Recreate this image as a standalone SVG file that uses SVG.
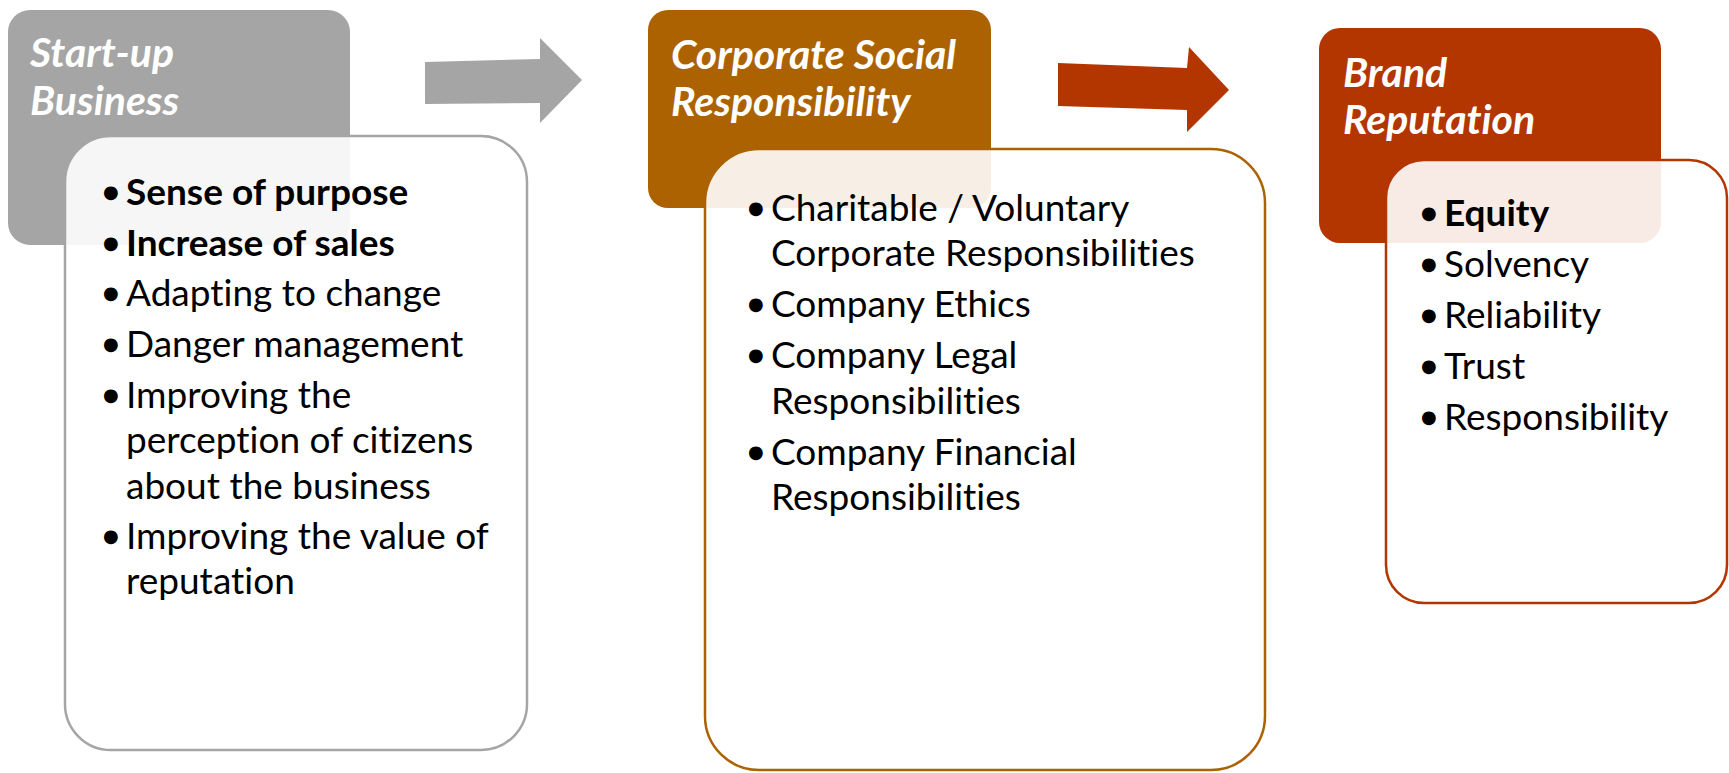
<svg xmlns="http://www.w3.org/2000/svg" width="1729" height="773" viewBox="0 0 1729 773">
<style>
text{font-variant-ligatures:none}
.hdr{font-family:Lato,"Liberation Sans",sans-serif;font-weight:bold;font-style:italic;font-size:41px;fill:#fff}
.txt{font-family:Lato,"Liberation Sans",sans-serif;font-size:37px;fill:#000}
.b{font-weight:bold}
.bul{font-family:"DejaVu Sans",sans-serif;font-size:18px;font-weight:normal}
.body{fill:#fff;fill-opacity:0.9;stroke-width:2.5}
</style>
<rect width="1729" height="773" fill="#fff"/>
<g id="connectors">
<polygon points="425,62 540,59 540,38 582,80 540,123 540,103 425,104" fill="#A5A5A5"/>
<polygon points="1058,63 1187,68 1189,47 1229,90 1187,132 1187,110 1058,106" fill="#B33500"/>
</g>
<g id="node-startup">
<rect x="8" y="10" width="342" height="235" rx="22" fill="#A5A5A5"/>
<text class="hdr" x="30" y="67">Start-up</text>
<text class="hdr" x="30" y="115">Business</text>
<rect class="body" x="65" y="136" width="462" height="614" rx="46" stroke="#A5A5A5"/>
<text class="txt b" x="103" y="205"><tspan class="bul" dy="-7">●</tspan><tspan x="126" dy="7">Sense of purpose</tspan></text>
<text class="txt b" x="103" y="256"><tspan class="bul" dy="-7">●</tspan><tspan x="126" dy="7">Increase of sales</tspan></text>
<text class="txt" x="103" y="306"><tspan class="bul" dy="-7">●</tspan><tspan x="126" dy="7">Adapting to change</tspan></text>
<text class="txt" x="103" y="357"><tspan class="bul" dy="-7">●</tspan><tspan x="126" dy="7">Danger management</tspan></text>
<text class="txt" x="103" y="408"><tspan class="bul" dy="-7">●</tspan><tspan x="126" dy="7">Improving the</tspan></text>
<text class="txt" x="126" y="453">perception of citizens</text>
<text class="txt" x="126" y="499">about the business</text>
<text class="txt" x="103" y="549"><tspan class="bul" dy="-7">●</tspan><tspan x="126" dy="7">Improving the value of</tspan></text>
<text class="txt" x="126" y="594">reputation</text>
</g>
<g id="node-csr">
<rect x="648" y="10" width="343" height="198" rx="20" fill="#AC6200"/>
<text class="hdr" x="671" y="69">Corporate Social</text>
<text class="hdr" x="671" y="116">Responsibility</text>
<rect class="body" x="705" y="149" width="560" height="621" rx="54" stroke="#AC6200"/>
<text class="txt" x="748" y="221"><tspan class="bul" dy="-7">●</tspan><tspan x="771" dy="7">Charitable / Voluntary</tspan></text>
<text class="txt" x="771" y="266">Corporate Responsibilities</text>
<text class="txt" x="748" y="317"><tspan class="bul" dy="-7">●</tspan><tspan x="771" dy="7">Company Ethics</tspan></text>
<text class="txt" x="748" y="368"><tspan class="bul" dy="-7">●</tspan><tspan x="771" dy="7">Company Legal</tspan></text>
<text class="txt" x="771" y="414">Responsibilities</text>
<text class="txt" x="748" y="465"><tspan class="bul" dy="-7">●</tspan><tspan x="771" dy="7">Company Financial</tspan></text>
<text class="txt" x="771" y="510">Responsibilities</text>
</g>
<g id="node-brand">
<rect x="1319" y="28" width="342" height="215" rx="21" fill="#B33500"/>
<text class="hdr" x="1343" y="87">Brand</text>
<text class="hdr" x="1343" y="134">Reputation</text>
<rect class="body" x="1386" y="160" width="341" height="443" rx="38" stroke="#B33500"/>
<text class="txt b" x="1421" y="226"><tspan class="bul" dy="-7">●</tspan><tspan x="1444" dy="7">Equity</tspan></text>
<text class="txt" x="1421" y="277"><tspan class="bul" dy="-7">●</tspan><tspan x="1444" dy="7">Solvency</tspan></text>
<text class="txt" x="1421" y="328"><tspan class="bul" dy="-7">●</tspan><tspan x="1444" dy="7">Reliability</tspan></text>
<text class="txt" x="1421" y="379"><tspan class="bul" dy="-7">●</tspan><tspan x="1444" dy="7">Trust</tspan></text>
<text class="txt" x="1421" y="430"><tspan class="bul" dy="-7">●</tspan><tspan x="1444" dy="7">Responsibility</tspan></text>
</g>
</svg>
